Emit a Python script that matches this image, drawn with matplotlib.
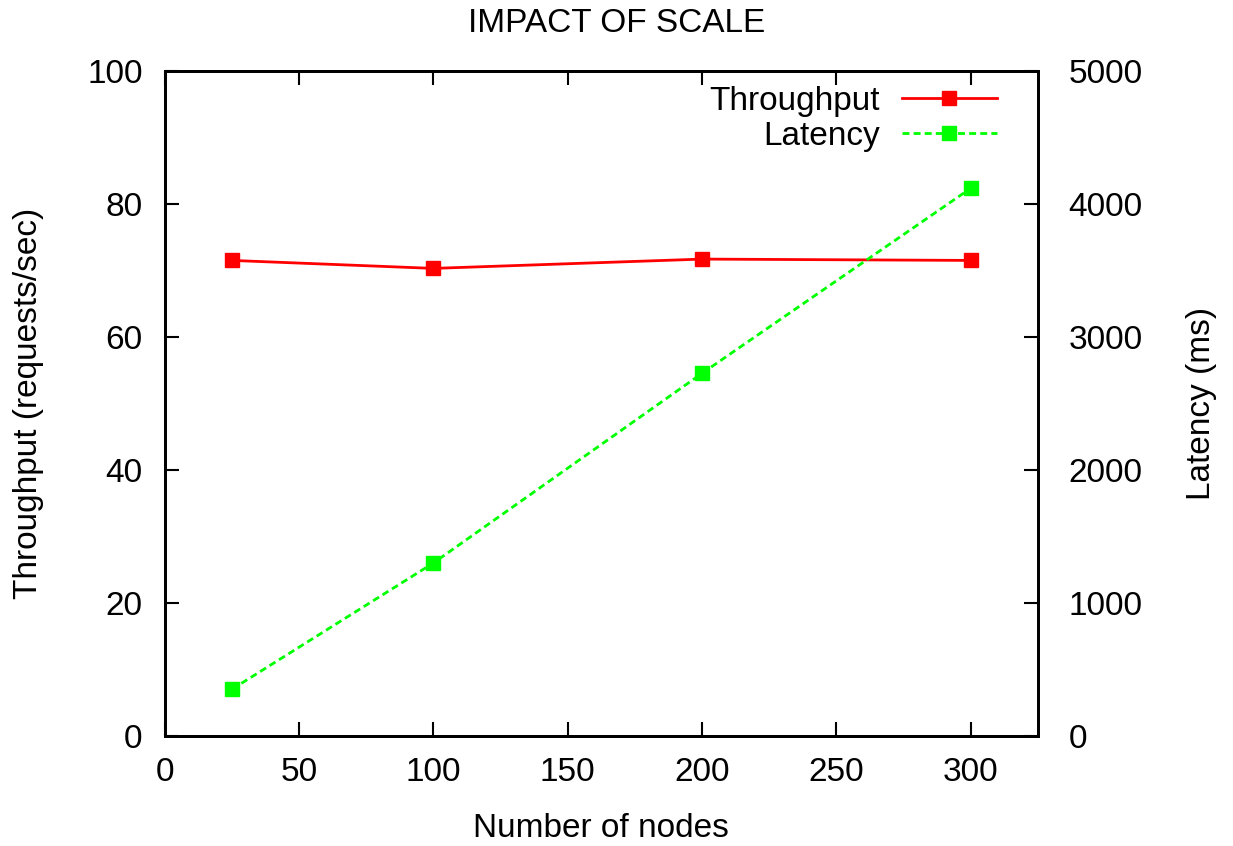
import matplotlib
matplotlib.use('Agg')
import matplotlib.pyplot as plt

plt.rcParams['font.family'] = ['Liberation Sans', 'DejaVu Sans']

# data
nodes = [25, 100, 200, 300]
throughput = [71.5, 70.3, 71.7, 71.5]
latency = [349, 1299, 2726, 4118]

fig = plt.figure(figsize=(12.33, 8.46), dpi=100)
ax = fig.add_axes([0.1336, 0.1304, 0.7082, 0.7857])
ax2 = ax.twinx()

l1, = ax.plot(nodes, throughput, color='#ff0000', lw=2, marker='s', ms=10,
              label='Throughput')
l2, = ax2.plot(nodes, latency, color='#00ff00', lw=2, ls=(0, (2.5, 1.5)),
               marker='s', ms=10, label='Latency')

ax.set_xlim(0, 325)
ax.set_ylim(0, 100)
ax2.set_ylim(0, 5000)
ax.set_xticks([0, 50, 100, 150, 200, 250, 300])
ax.set_yticks([0, 20, 40, 60, 80, 100])
ax2.set_yticks([0, 1000, 2000, 3000, 4000, 5000])

fs = 24
ax.tick_params(axis='x', direction='in', top=True, length=10, width=1.5,
               labelsize=fs, pad=15)
ax.tick_params(axis='y', direction='in', right=False, length=10, width=1.5,
               labelsize=fs, pad=16)
ax2.tick_params(axis='y', direction='in', length=10, width=1.5,
                labelsize=fs, pad=22)
for a in (ax, ax2):
    for s in a.spines.values():
        s.set_linewidth(2)

ax.set_xlabel('Number of nodes', fontsize=fs, labelpad=18)
ax.set_ylabel('Throughput (requests/sec)', fontsize=fs, labelpad=31)
ax2.set_ylabel('Latency (ms)', fontsize=fs, rotation=90, labelpad=31)
fig.suptitle('IMPACT OF SCALE', fontsize=fs, y=0.99)

ax2.legend([l1, l2], ['Throughput', 'Latency'], loc='upper right',
           bbox_to_anchor=(0.953, 0.978), frameon=False, markerfirst=False,
           fontsize=fs, handlelength=2.85, handletextpad=0.65,
           borderaxespad=0, borderpad=0, labelspacing=0.12)

fig.savefig('out.png', dpi=100)
